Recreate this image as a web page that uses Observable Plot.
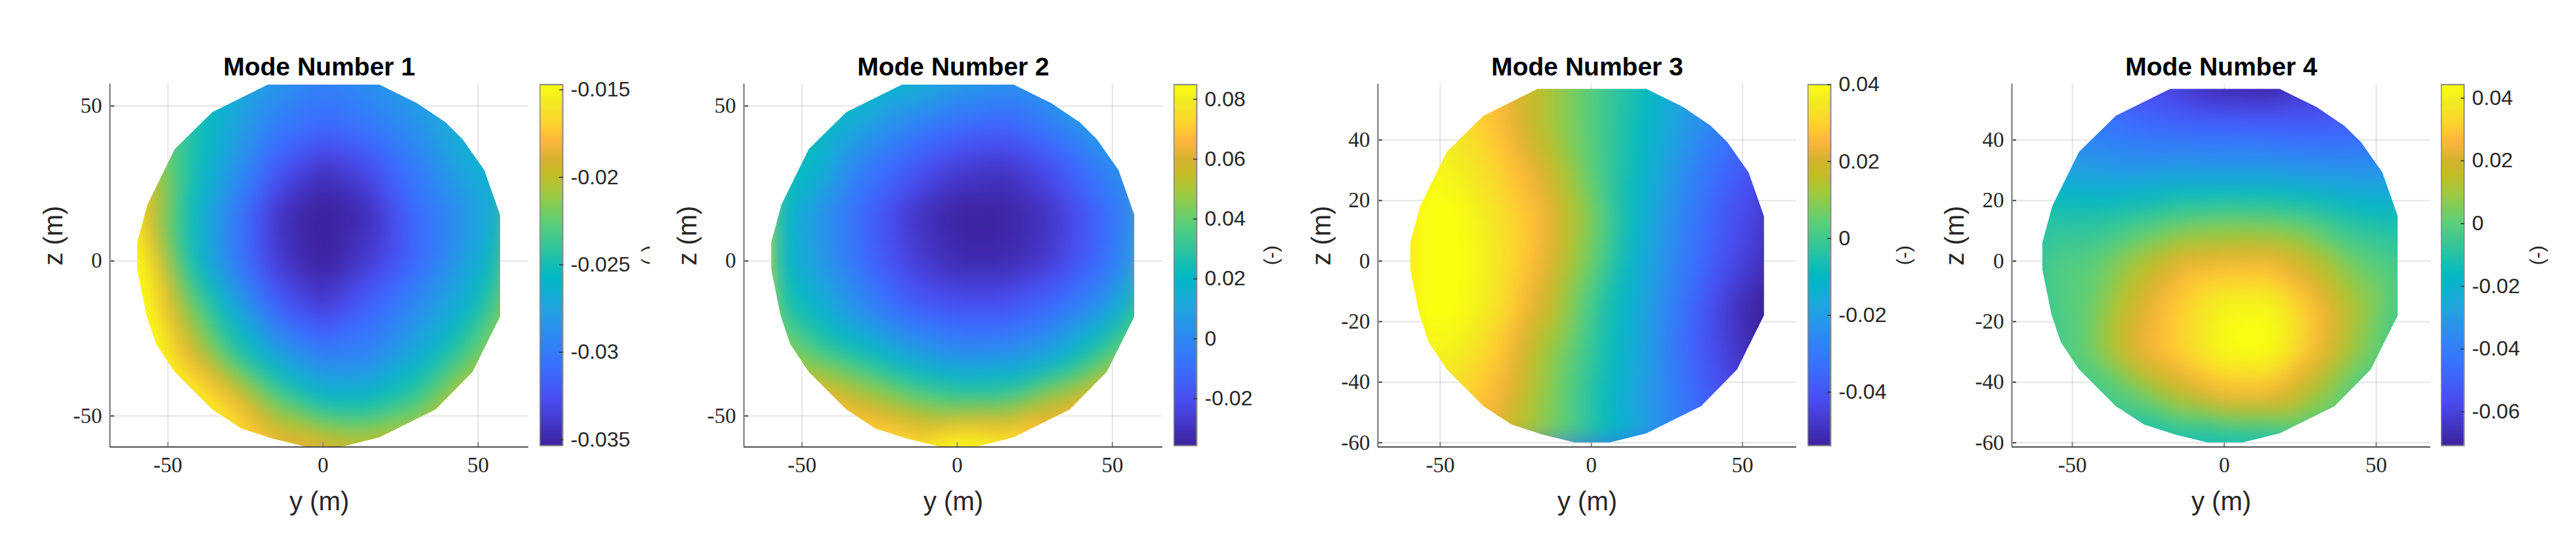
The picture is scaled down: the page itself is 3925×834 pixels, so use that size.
<!DOCTYPE html>
<html><head><meta charset="utf-8">
<script src="https://cdn.jsdelivr.net/npm/d3@7"></script>
<script src="https://cdn.jsdelivr.net/npm/@observablehq/plot@0.6"></script>
<style>
html,body{margin:0;padding:0;background:#fff}
#wrap{position:relative;width:3925px;height:834px;overflow:hidden;background:#fff}
#wrap svg{position:absolute;top:0;background:transparent}
</style></head><body><div id="wrap"></div>
<script>
const yGrid = [-60,-45,-30,-15,0,15,30,45,60];
const zGrid = [60,45,30,15,0,-15,-30,-45,-60];
const outline = [[-17.8,56.9],[-35.7,48],[-47.8,36.1],[-56.6,18.2],[-59.9,6],[-59.9,-2.7],[-56.9,-17.6],[-53.8,-26.8],[-47.8,-35.8],[-35.7,-47.9],[-26.4,-54],[-16.2,-57.3],[-5.6,-59.9],[6.1,-59.9],[18.2,-56.9],[36.3,-47.9],[48.2,-35.8],[57.1,-17.9],[57.1,14.8],[52,29.3],[45,39.3],[39.5,44.7],[30.3,50.9],[18.2,56.9]];
const mode1 = [
-.023,-.025,-.0262,-.0278,-.0295,-.0285,-.0275,-.026,-.025,
-.022,-.024,-.027,-.0298,-.031,-.030,-.0285,-.0265,-.025,
-.019,-.024,-.028,-.032,-.0342,-.0328,-.030,-.0272,-.0255,
-.017,-.0245,-.0295,-.0342,-.0358,-.0346,-.031,-.0285,-.0255,
-.014,-.024,-.0295,-.0338,-.0356,-.0338,-.0312,-.028,-.024,
-.013,-.021,-.0265,-.0315,-.0338,-.0315,-.029,-.0265,-.022,
-.012,-.018,-.0235,-.0275,-.030,-.0295,-.027,-.0235,-.020,
-.012,-.0145,-.0175,-.0225,-.0255,-.0255,-.0235,-.0195,-.018,
-.012,-.013,-.015,-.018,-.0185,-.0195,-.019,-.017,-.016];
const mode2 = [
.03,.028,.025,.022,.012,.008,.010,.015,.018,
.030,.024,.012,.000,-.008,-.012,-.002,.010,.014,
.028,.018,-.004,-.016,-.026,-.029,-.020,-.004,.008,
.025,.006,-.012,-.028,-.036,-.036,-.029,-.014,.004,
.026,.008,-.010,-.025,-.033,-.033,-.027,-.012,.010,
.034,.017,.000,-.014,-.019,-.019,-.011,.002,.03,
.052,.036,.024,.010,.002,.003,.010,.030,.05,
.075,.068,.055,.043,.035,.036,.052,.065,.075,
.09,.085,.08,.078,.09,.082,.072,.075,.08];
const mode3 = [
.032,.030,.025,.014,.003,-.006,-.017,-.025,-.033,
.035,.034,.026,.014,.003,-.008,-.020,-.030,-.036,
.038,.037,.030,.020,.004,-.009,-.024,-.036,-.045,
.041,.041,.033,.024,.008,-.011,-.027,-.040,-.048,
.042,.042,.034,.023,.006,-.013,-.029,-.042,-.051,
.040,.041,.033,.019,.000,-.015,-.032,-.047,-.058,
.037,.037,.028,.012,-.002,-.016,-.033,-.046,-.056,
.033,.032,.024,.010,-.004,-.018,-.031,-.042,-.05,
.03,.028,.020,.008,-.004,-.016,-.028,-.038,-.046];
const mode4 = [
-.045,-.05,-.058,-.063,-.072,-.074,-.067,-.058,-.052,
-.038,-.042,-.046,-.049,-.050,-.051,-.052,-.050,-.048,
-.025,-.029,-.031,-.029,-.030,-.030,-.032,-.033,-.032,
-.010,-.011,-.008,-.003,-.001,-.002,-.006,-.013,-.016,
-.003,-.001,.010,.022,.024,.025,.015,.001,-.006,
-.004,.001,.019,.031,.042,.043,.028,.010,-.006,
-.006,.002,.022,.032,.044,.045,.027,.006,-.006,
-.010,-.006,.000,.014,.024,.024,.010,-.005,-.012,
-.016,-.016,-.015,-.014,-.016,-.015,-.012,-.012,-.015];
const titles = ["Mode Number 1","Mode Number 2","Mode Number 3","Mode Number 4"];
const xTicks = [-50,0,50];
const zTicksWide = [-50,0,50];
const zTicksFine = [-60,-40,-20,0,20,40];
const barTicks1 = [-0.035,-0.03,-0.025,-0.02,-0.015];
const barTicks2 = [-0.02,0,0.02,0.04,0.06,0.08];
const barTicks3 = [-0.04,-0.02,0,0.02,0.04];
const barTicks4 = [-0.06,-0.04,-0.02,0,0.02,0.04];
const mapStops = [0,.123,.222,.288,.387,.467,.533,.618,.698,.75,.79,.843,.883,.949,1];
const mapColors = ["#3d22a0","#4a4cf0","#3a70ff","#2f85f5","#1fa6de","#00b8c4","#28c3a5","#5ccf78","#a0c940","#c4bd24","#d4b32f","#ffb53c","#ffcf30","#f2ea24","#faff10"];

const panels = [
 {values:mode1,left:167,xd:[-68.7,66.3],yd:[-60,57.1],zt:zTicksWide,bar:[-0.03534,-0.0147],bt:barTicks1,cbl:822,zdx:-85,ldx:135,cw:168},
 {values:mode2,left:1133.4,xd:[-68.7,66.2],yd:[-60,57.1],zt:zTicksWide,bar:[-0.0357,0.0849],bt:barTicks2,cbl:1787.7,zdx:-85,ldx:117,cw:185},
 {values:mode3,left:2098.6,xd:[-70.6,67.9],yd:[-61.4,58.5],zt:zTicksFine,bar:[-0.0539,0.04],bt:barTicks3,cbl:2753.5,zdx:-85,ldx:115.5,cw:185},
 {values:mode4,left:3064.6,xd:[-69.9,67.9],yd:[-61.4,58.5],zt:zTicksFine,bar:[-0.0708,0.0443],bt:barTicks4,cbl:3719.4,zdx:-86,ldx:115.5,cw:185}
];
const TOP = 127.5, H = 553.5, W = 638, ML = 130, MB = 834-TOP-H;
const sans = "'Liberation Sans',Arial,sans-serif", serif = "'Liberation Serif','Latin Modern Roman',serif";
const ink = "#262626", spine = "#8a8a8a";
const wrap = document.getElementById("wrap");
const ring = {type:"Polygon",coordinates:[[...outline,outline[0]]]};
const ramp = d3.scaleLinear().domain(mapStops).range(mapColors).interpolate(d3.interpolateRgb);

panels.forEach((p,i)=>{
  const pts = p.values.map((v,k)=>({y:yGrid[k%9],z:zGrid[Math.floor(k/9)],v}));
  const color = {type:"linear",domain:p.bar,interpolate:t=>ramp(t),clamp:true};
  const chart = Plot.plot({
    width:ML+W,height:TOP+H+MB,marginLeft:ML,marginRight:0,marginTop:TOP,marginBottom:MB,
    style:{fontFamily:sans,background:"transparent"},
    x:{domain:p.xd},y:{domain:p.yd},color,
    marks:[
      Plot.gridX(xTicks,{stroke:"#000",strokeOpacity:.1,strokeWidth:2}),
      Plot.gridY(p.zt,{stroke:"#000",strokeOpacity:.1,strokeWidth:2}),
      Plot.raster(pts,{x:"y",y:"z",fill:"v",interpolate:"barycentric",blur:15,pixelSize:1,clip:ring}),
      Plot.axisX({ticks:xTicks,tickSize:-7,tickFormat:()=>"",stroke:spine,strokeWidth:2,label:null}),
      Plot.axisY({ticks:p.zt,tickSize:-7,tickFormat:()=>"",stroke:"#444",strokeWidth:2,label:null}),
      Plot.axisX({ticks:xTicks,tickSize:0,tickPadding:15,fontFamily:serif,fontSize:33,fill:ink,label:null,tickFormat:d=>String(d)}),
      Plot.axisY({ticks:p.zt,tickSize:0,tickPadding:12,fontFamily:serif,fontSize:33,fill:ink,label:null,tickFormat:d=>String(d)}),
      Plot.ruleX([p.xd[0]],{stroke:spine,strokeWidth:2.5}),
      Plot.ruleY([p.yd[0]],{stroke:"#444",strokeWidth:2}),
      Plot.text([titles[i]],{frameAnchor:"top",lineAnchor:"middle",dy:-25,fontFamily:sans,fontWeight:"bold",fontSize:39,fill:"#000"}),
      Plot.text(["y (m)"],{frameAnchor:"bottom",lineAnchor:"middle",dy:84,fontFamily:sans,fontSize:40,fill:ink}),
      Plot.text(["z (m)"],{frameAnchor:"left",lineAnchor:"middle",dx:p.zdx,rotate:-90,fontFamily:sans,fontSize:40,fill:ink})
    ]
  });
  chart.style.left=(p.left-ML)+"px";
  wrap.appendChild(chart);

  const cb = Plot.plot({
    width:p.cw,height:TOP+H+MB,marginLeft:0,marginRight:p.cw-35,marginTop:TOP+1,marginBottom:MB+2,
    style:{fontFamily:sans,background:"transparent"},
    x:{domain:[0,1],axis:null},y:{domain:p.bar},color,
    marks:[
      Plot.raster({fill:(x,y)=>y,x1:0,x2:1,y1:p.bar[0],y2:p.bar[1],pixelSize:1}),
      Plot.frame({stroke:spine,strokeWidth:2}),
      Plot.axisY({anchor:"right",ticks:p.bt,tickSize:-6,tickFormat:()=>"",stroke:"#333",strokeWidth:1.5,label:null}),
      Plot.axisY({anchor:"right",ticks:p.bt,tickSize:0,tickPadding:12,fontFamily:sans,fontSize:32,fill:ink,label:null,tickFormat:d=>String(d)}),
      Plot.text(["(-)"],{frameAnchor:"right",lineAnchor:"middle",dx:p.ldx,rotate:90,fontFamily:sans,fontSize:30,fill:ink})
    ]
  });
  cb.style.left=p.cbl+"px";
  cb.style.overflow="hidden";
  wrap.appendChild(cb);
});
</script></body></html>
